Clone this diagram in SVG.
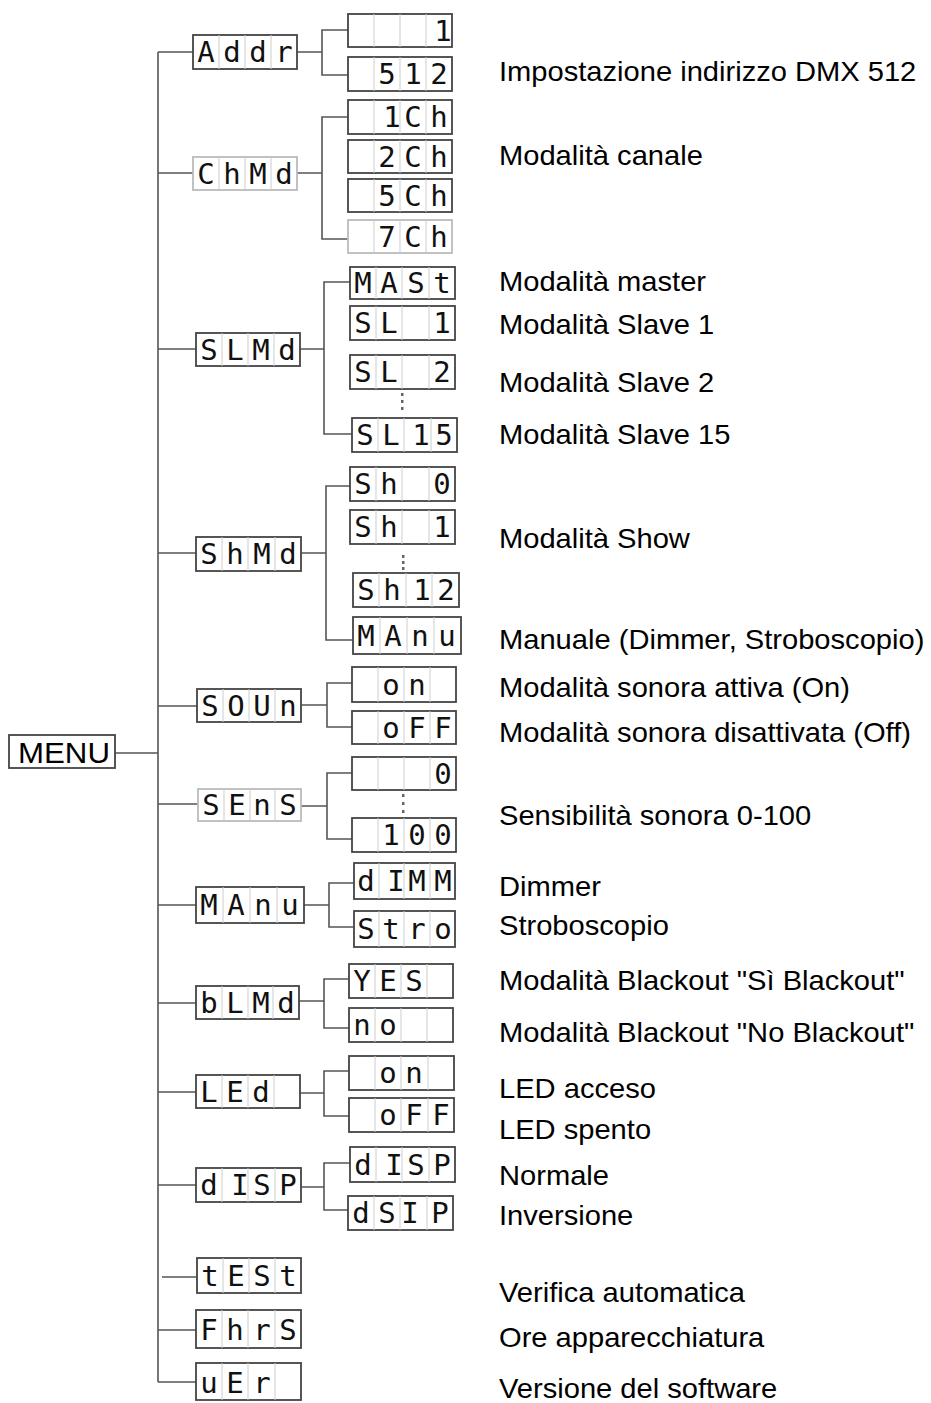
<svg xmlns="http://www.w3.org/2000/svg" width="931" height="1403" viewBox="0 0 931 1403">
<style>
.box{fill:#fff;stroke:#444;stroke-width:1.8}
.lt{stroke:#bbb}
.cell{stroke:#ccc;stroke-width:1}
.seg{font-family:"DejaVu Sans Mono","Liberation Mono",monospace;font-size:29px;fill:#111;text-anchor:middle}
.lbl{font-family:"Liberation Sans",Arial,sans-serif;font-size:28px;fill:#000}
.con{fill:none;stroke:#555;stroke-width:1.6}
.dot{fill:#666}
</style>
<rect width="931" height="1403" fill="#fff"/>
<g id="connectors" class="con">
<path d="M158 52V1382M115 753H158"/>
<path d="M158 52H193M158 173H193M158 349H196M158 553H196M158 706H197M158 804H198M158 905H196M158 1003H196M158 1092H196M158 1185H196M162 1277H197M158 1330H196M158 1382H196"/>
<path d="M297 52H322M348 30H322V75H348"/>
<path d="M297 173H322M348 117H322V239H348"/>
<path d="M300 349H324M350 282H324V434H352"/>
<path d="M301 553H326M350 486H326V640H353"/>
<path d="M301 705H327M352 683H327V727H352"/>
<path d="M301 806H327M352 773H327V839H352"/>
<path d="M304 905H329M354 883H329V927H354"/>
<path d="M299 1001H324M349 979H324V1028H349"/>
<path d="M300 1093H324M349 1071H324V1116H349"/>
<path d="M301 1187H324M350 1163H324V1210H348"/>
</g>
<g id="menu"><rect class="box" x="9" y="735" width="106" height="33"/><text x="18" y="763" font-family="Liberation Sans,Arial,sans-serif" font-size="29" textLength="92" lengthAdjust="spacingAndGlyphs">MENU</text></g>
<g id="addr"><rect class="box" x="193" y="35" width="104" height="34"/><path class="cell" d="M219 35V69M245 35V69M271 35V69"/><text class="seg" y="62"><tspan x="206">A</tspan><tspan x="232">d</tspan><tspan x="258">d</tspan><tspan x="284">r</tspan></text></g>
<g id="chmd"><rect class="box lt" x="193" y="157" width="104" height="33"/><path class="cell" d="M219 157V190M245 157V190M271 157V190"/><text class="seg" y="184"><tspan x="206">C</tspan><tspan x="232">h</tspan><tspan x="258">M</tspan><tspan x="284">d</tspan></text></g>
<g id="slmd"><rect class="box" x="196" y="333" width="104" height="33"/><path class="cell" d="M222 333V366M248 333V366M274 333V366"/><text class="seg" y="360"><tspan x="209">S</tspan><tspan x="235">L</tspan><tspan x="261">M</tspan><tspan x="287">d</tspan></text></g>
<g id="shmd"><rect class="box" x="196" y="537" width="105" height="34"/><path class="cell" d="M222 537V571M248 537V571M275 537V571"/><text class="seg" y="564"><tspan x="209">S</tspan><tspan x="235">h</tspan><tspan x="262">M</tspan><tspan x="288">d</tspan></text></g>
<g id="soun"><rect class="box" x="197" y="689" width="104" height="33"/><path class="cell" d="M223 689V722M249 689V722M275 689V722"/><text class="seg" y="716"><tspan x="210">S</tspan><tspan x="236">O</tspan><tspan x="262">U</tspan><tspan x="288">n</tspan></text></g>
<g id="sens"><rect class="box lt" x="198" y="789" width="103" height="32"/><path class="cell" d="M224 789V821M250 789V821M275 789V821"/><text class="seg" y="815"><tspan x="211">S</tspan><tspan x="237">E</tspan><tspan x="262">n</tspan><tspan x="288">S</tspan></text></g>
<g id="manu"><rect class="box" x="196" y="887" width="108" height="36"/><path class="cell" d="M223 887V923M250 887V923M277 887V923"/><text class="seg" y="915"><tspan x="209">M</tspan><tspan x="236">A</tspan><tspan x="263">n</tspan><tspan x="290">u</tspan></text></g>
<g id="blmd"><rect class="box" x="196" y="986" width="103" height="33"/><path class="cell" d="M222 986V1019M248 986V1019M273 986V1019"/><text class="seg" y="1013"><tspan x="209">b</tspan><tspan x="235">L</tspan><tspan x="261">M</tspan><tspan x="286">d</tspan></text></g>
<g id="led"><rect class="box" x="196" y="1075" width="104" height="33"/><path class="cell" d="M222 1075V1108M248 1075V1108M274 1075V1108"/><text class="seg" y="1102"><tspan x="209">L</tspan><tspan x="235">E</tspan><tspan x="261">d</tspan></text></g>
<g id="disp"><rect class="box" x="196" y="1168" width="105" height="34"/><path class="cell" d="M222 1168V1202M248 1168V1202M275 1168V1202"/><text class="seg" y="1195"><tspan x="209">d</tspan><tspan x="240">I</tspan><tspan x="262">S</tspan><tspan x="288">P</tspan></text></g>
<g id="test"><rect class="box" x="197" y="1258" width="104" height="35"/><path class="cell" d="M223 1258V1293M249 1258V1293M275 1258V1293"/><text class="seg" y="1286"><tspan x="210">t</tspan><tspan x="236">E</tspan><tspan x="262">S</tspan><tspan x="288">t</tspan></text></g>
<g id="fhrs"><rect class="box" x="196" y="1310" width="105" height="38"/><path class="cell" d="M222 1310V1348M248 1310V1348M275 1310V1348"/><text class="seg" y="1340"><tspan x="209">F</tspan><tspan x="235">h</tspan><tspan x="262">r</tspan><tspan x="288">S</tspan></text></g>
<g id="uer"><rect class="box" x="196" y="1363" width="105" height="37"/><path class="cell" d="M222 1363V1400M248 1363V1400M275 1363V1400"/><text class="seg" y="1393"><tspan x="209">u</tspan><tspan x="235">E</tspan><tspan x="262">r</tspan></text></g>
<g id="v1"><rect class="box" x="348" y="14" width="104" height="33"/><path class="cell" d="M374 14V47M400 14V47M426 14V47"/><text class="seg" y="41"><tspan x="443">1</tspan></text></g>
<g id="v512"><rect class="box" x="348" y="57" width="104" height="34"/><path class="cell" d="M374 57V91M400 57V91M426 57V91"/><text class="seg" y="84"><tspan x="387">5</tspan><tspan x="413">1</tspan><tspan x="439">2</tspan></text></g>
<g id="c1"><rect class="box" x="348" y="100" width="104" height="34"/><path class="cell" d="M374 100V134M400 100V134M426 100V134"/><text class="seg" y="127"><tspan x="392">1</tspan><tspan x="413">C</tspan><tspan x="439">h</tspan></text></g>
<g id="c2"><rect class="box" x="348" y="140" width="104" height="33"/><path class="cell" d="M374 140V173M400 140V173M426 140V173"/><text class="seg" y="167"><tspan x="387">2</tspan><tspan x="413">C</tspan><tspan x="439">h</tspan></text></g>
<g id="c5"><rect class="box" x="348" y="179" width="104" height="33"/><path class="cell" d="M374 179V212M400 179V212M426 179V212"/><text class="seg" y="206"><tspan x="387">5</tspan><tspan x="413">C</tspan><tspan x="439">h</tspan></text></g>
<g id="c7"><rect class="box lt" x="348" y="220" width="104" height="33"/><path class="cell" d="M374 220V253M400 220V253M426 220V253"/><text class="seg" y="247"><tspan x="387">7</tspan><tspan x="413">C</tspan><tspan x="439">h</tspan></text></g>
<g id="mast"><rect class="box" x="350" y="267" width="105" height="32"/><path class="cell" d="M376 267V299M402 267V299M429 267V299"/><text class="seg" y="293"><tspan x="363">M</tspan><tspan x="389">A</tspan><tspan x="416">S</tspan><tspan x="442">t</tspan></text></g>
<g id="sl1"><rect class="box" x="350" y="306" width="105" height="34"/><path class="cell" d="M376 306V340M402 306V340M429 306V340"/><text class="seg" y="333"><tspan x="363">S</tspan><tspan x="389">L</tspan><tspan x="442">1</tspan></text></g>
<g id="sl2"><rect class="box" x="350" y="355" width="105" height="34"/><path class="cell" d="M376 355V389M402 355V389M429 355V389"/><text class="seg" y="382"><tspan x="363">S</tspan><tspan x="389">L</tspan><tspan x="442">2</tspan></text></g>
<g id="sl15"><rect class="box" x="352" y="418" width="105" height="34"/><path class="cell" d="M378 418V452M404 418V452M431 418V452"/><text class="seg" y="445"><tspan x="365">S</tspan><tspan x="391">L</tspan><tspan x="421">1</tspan><tspan x="444">5</tspan></text></g>
<g id="sh0"><rect class="box" x="350" y="467" width="105" height="34"/><path class="cell" d="M376 467V501M402 467V501M429 467V501"/><text class="seg" y="494"><tspan x="363">S</tspan><tspan x="389">h</tspan><tspan x="442">0</tspan></text></g>
<g id="sh1"><rect class="box" x="350" y="510" width="105" height="34"/><path class="cell" d="M376 510V544M402 510V544M429 510V544"/><text class="seg" y="537"><tspan x="363">S</tspan><tspan x="389">h</tspan><tspan x="442">1</tspan></text></g>
<g id="sh12"><rect class="box" x="353" y="573" width="106" height="34"/><path class="cell" d="M379 573V607M406 573V607M432 573V607"/><text class="seg" y="600"><tspan x="366">S</tspan><tspan x="392">h</tspan><tspan x="422">1</tspan><tspan x="446">2</tspan></text></g>
<g id="manu2"><rect class="box" x="353" y="617" width="108" height="37"/><path class="cell" d="M380 617V654M407 617V654M434 617V654"/><text class="seg" y="646"><tspan x="366">M</tspan><tspan x="393">A</tspan><tspan x="420">n</tspan><tspan x="447">u</tspan></text></g>
<g id="on1"><rect class="box" x="352" y="667" width="104" height="35"/><path class="cell" d="M378 667V702M404 667V702M430 667V702"/><text class="seg" y="695"><tspan x="391">o</tspan><tspan x="417">n</tspan></text></g>
<g id="off1"><rect class="box" x="352" y="711" width="104" height="33"/><path class="cell" d="M378 711V744M404 711V744M430 711V744"/><text class="seg" y="738"><tspan x="391">o</tspan><tspan x="417">F</tspan><tspan x="443">F</tspan></text></g>
<g id="s0"><rect class="box" x="352" y="757" width="104" height="33"/><path class="cell" d="M378 757V790M404 757V790M430 757V790"/><text class="seg" y="784"><tspan x="443">0</tspan></text></g>
<g id="s100"><rect class="box" x="352" y="818" width="104" height="34"/><path class="cell" d="M378 818V852M404 818V852M430 818V852"/><text class="seg" y="845"><tspan x="391">1</tspan><tspan x="417">0</tspan><tspan x="443">0</tspan></text></g>
<g id="dimm"><rect class="box" x="354" y="863" width="101" height="36"/><path class="cell" d="M379 863V899M404 863V899M430 863V899"/><text class="seg" y="891"><tspan x="366">d</tspan><tspan x="396">I</tspan><tspan x="417">M</tspan><tspan x="443">M</tspan></text></g>
<g id="stro"><rect class="box" x="354" y="911" width="101" height="36"/><path class="cell" d="M379 911V947M404 911V947M430 911V947"/><text class="seg" y="939"><tspan x="366">S</tspan><tspan x="391">t</tspan><tspan x="417">r</tspan><tspan x="443">o</tspan></text></g>
<g id="yes"><rect class="box" x="349" y="964" width="104" height="34"/><path class="cell" d="M375 964V998M401 964V998M427 964V998"/><text class="seg" y="991"><tspan x="362">Y</tspan><tspan x="388">E</tspan><tspan x="414">S</tspan></text></g>
<g id="no"><rect class="box" x="349" y="1008" width="104" height="34"/><path class="cell" d="M375 1008V1042M401 1008V1042M427 1008V1042"/><text class="seg" y="1035"><tspan x="362">n</tspan><tspan x="388">o</tspan></text></g>
<g id="on2"><rect class="box" x="349" y="1056" width="105" height="34"/><path class="cell" d="M375 1056V1090M401 1056V1090M428 1056V1090"/><text class="seg" y="1083"><tspan x="388">o</tspan><tspan x="414">n</tspan></text></g>
<g id="off2"><rect class="box" x="349" y="1098" width="105" height="34"/><path class="cell" d="M375 1098V1132M401 1098V1132M428 1098V1132"/><text class="seg" y="1125"><tspan x="388">o</tspan><tspan x="414">F</tspan><tspan x="441">F</tspan></text></g>
<g id="disp2"><rect class="box" x="350" y="1147" width="105" height="35"/><path class="cell" d="M376 1147V1182M402 1147V1182M429 1147V1182"/><text class="seg" y="1175"><tspan x="363">d</tspan><tspan x="394">I</tspan><tspan x="416">S</tspan><tspan x="442">P</tspan></text></g>
<g id="dsip"><rect class="box" x="348" y="1196" width="105" height="34"/><path class="cell" d="M374 1196V1230M400 1196V1230M427 1196V1230"/><text class="seg" y="1223"><tspan x="361">d</tspan><tspan x="387">S</tspan><tspan x="410">I</tspan><tspan x="440">P</tspan></text></g>
<g id="ellipsis" class="dot">
<rect x="401" y="393" width="2.5" height="3"/><rect x="401" y="400" width="2.5" height="3"/><rect x="401" y="407" width="2.5" height="3"/>
<rect x="402" y="555" width="2.5" height="3"/><rect x="402" y="561" width="2.5" height="3"/><rect x="402" y="567" width="2.5" height="3"/>
<rect x="402" y="794" width="2.5" height="3"/><rect x="402" y="802" width="2.5" height="3"/><rect x="402" y="810" width="2.5" height="3"/>
</g>
<g id="labels" class="lbl" transform="translate(499 0) scale(1.04 1)">
<text x="0" y="81">Impostazione indirizzo DMX 512</text>
<text x="0" y="165">Modalità canale</text>
<text x="0" y="291">Modalità master</text>
<text x="0" y="334">Modalità Slave 1</text>
<text x="0" y="392">Modalità Slave 2</text>
<text x="0" y="444">Modalità Slave 15</text>
<text x="0" y="548">Modalità Show</text>
<text x="0" y="649">Manuale (Dimmer, Stroboscopio)</text>
<text x="0" y="697">Modalità sonora attiva (On)</text>
<text x="0" y="742">Modalità sonora disattivata (Off)</text>
<text x="0" y="825">Sensibilità sonora 0-100</text>
<text x="0" y="896">Dimmer</text>
<text x="0" y="935">Stroboscopio</text>
<text x="0" y="990">Modalità Blackout "Sì Blackout"</text>
<text x="0" y="1042">Modalità Blackout "No Blackout"</text>
<text x="0" y="1098">LED acceso</text>
<text x="0" y="1139">LED spento</text>
<text x="0" y="1185">Normale</text>
<text x="0" y="1225">Inversione</text>
<text x="0" y="1302">Verifica automatica</text>
<text x="0" y="1347">Ore apparecchiatura</text>
<text x="0" y="1398">Versione del software</text>
</g>
</svg>
